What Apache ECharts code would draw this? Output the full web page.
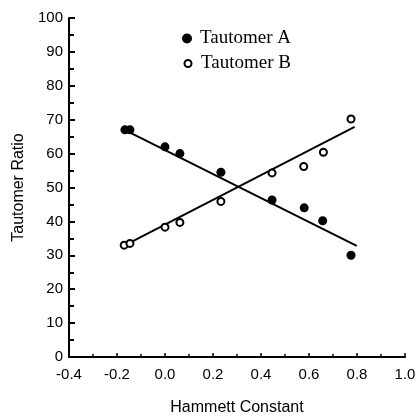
<!DOCTYPE html>
<html><head><meta charset="utf-8">
<script src="https://cdn.jsdelivr.net/npm/echarts@6/dist/echarts.min.js"></script>
<style>html,body{margin:0;padding:0;background:#fff}#c{width:418px;height:416px}</style>
</head><body><div id="c"></div>
<script>
var hammettA = [-0.167, -0.146, 0.0, 0.062, 0.233, 0.446, 0.58, 0.657, 0.775];
var ratioA   = [67.0, 67.0, 62.0, 60.0, 54.5, 46.3, 44.0, 40.2, 30.0];
var hammettB = [-0.170, -0.146, 0.0, 0.062, 0.233, 0.446, 0.578, 0.66, 0.775];
var ratioB   = [33.0, 33.5, 38.3, 39.7, 45.9, 54.3, 56.2, 60.4, 70.2];
var fitAx = [-0.154, 0.799], fitAy = [66.5, 32.8];
var fitBx = [-0.16, 0.79],   fitBy = [33.2, 67.9];
var xTicks = {min: -0.4, max: 1.0, step: 0.2};
var yTicks = {min: 0, max: 100, step: 10};

function zip(a, b){ return a.map(function(v,i){ return [v, b[i]]; }); }
var chart = echarts.init(document.getElementById('c'), null, {renderer:'canvas'});
var sans = 'Liberation Sans, Arial, sans-serif';
var serif = 'Liberation Serif, Times New Roman, serif';
chart.setOption({
  animation: false,
  backgroundColor: '#fff',
  grid: {left: 69, right: 13, top: 18, bottom: 59, outerBoundsMode: 'none', containLabel: false},
  legend: [{
    orient: 'vertical', left: 182, top: 29, padding: 0,
    itemWidth: 10, itemHeight: 10,
    data: [{name:'Tautomer A', icon:'circle'}],
    textStyle: {fontFamily: serif, fontSize: 19, color: '#000', padding: [0,0,0,3]}
  }, {
    orient: 'vertical', left: 183.5, top: 54, padding: 0,
    itemWidth: 7, itemHeight: 7,
    data: [{name:'Tautomer B', icon:'circle'}],
    textStyle: {fontFamily: serif, fontSize: 19, color: '#000', padding: [0,0,0,4.5]}
  }],
  xAxis: {
    type: 'value', min: xTicks.min, max: xTicks.max, interval: xTicks.step,
    name: 'Hammett Constant', nameLocation: 'middle', nameGap: 43,
    nameTextStyle: {fontFamily: sans, fontSize: 16, color: '#000'},
    axisLine: {onZero: false, lineStyle: {color: '#000', width: 2}},
    axisTick: {inside: true, length: 4, lineStyle: {color: '#000', width: 1.5}},
    minorTick: {show: true, splitNumber: 2, length: 3, lineStyle: {color: '#000', width: 1.5}},
    splitLine: {show: false},
    axisLabel: {margin: 10, fontFamily: sans, fontSize: 15, color: '#000',
      formatter: function(v){ return v.toFixed(1); }}
  },
  yAxis: {
    type: 'value', min: yTicks.min, max: yTicks.max, interval: yTicks.step,
    name: 'Tautomer Ratio', nameLocation: 'middle', nameGap: 40,
    nameTextStyle: {fontFamily: sans, fontSize: 16, color: '#000'},
    axisLine: {onZero: false, lineStyle: {color: '#000', width: 2}},
    axisTick: {inside: true, length: 6, lineStyle: {color: '#000', width: 2}},
    minorTick: {show: true, splitNumber: 2, length: 5, lineStyle: {color: '#000', width: 2}},
    splitLine: {show: false},
    axisLabel: {margin: 6, fontFamily: sans, fontSize: 15, color: '#000'}
  },
  series: [
    {name: 'fitA', type: 'line', data: zip(fitAx, fitAy), symbol: 'none',
      lineStyle: {color: '#000', width: 2}, z: 2},
    {name: 'fitB', type: 'line', data: zip(fitBx, fitBy), symbol: 'none',
      lineStyle: {color: '#000', width: 2}, z: 2},
    {name: 'Tautomer A', type: 'scatter', data: zip(hammettA, ratioA), symbol: 'circle', symbolSize: 9,
      itemStyle: {color: '#000', opacity: 1}, z: 3},
    {name: 'Tautomer B', type: 'scatter', data: zip(hammettB, ratioB), symbol: 'circle', symbolSize: 7,
      itemStyle: {color: '#fff', borderColor: '#000', borderWidth: 2, opacity: 1}, z: 3}
  ]
});
</script></body></html>
